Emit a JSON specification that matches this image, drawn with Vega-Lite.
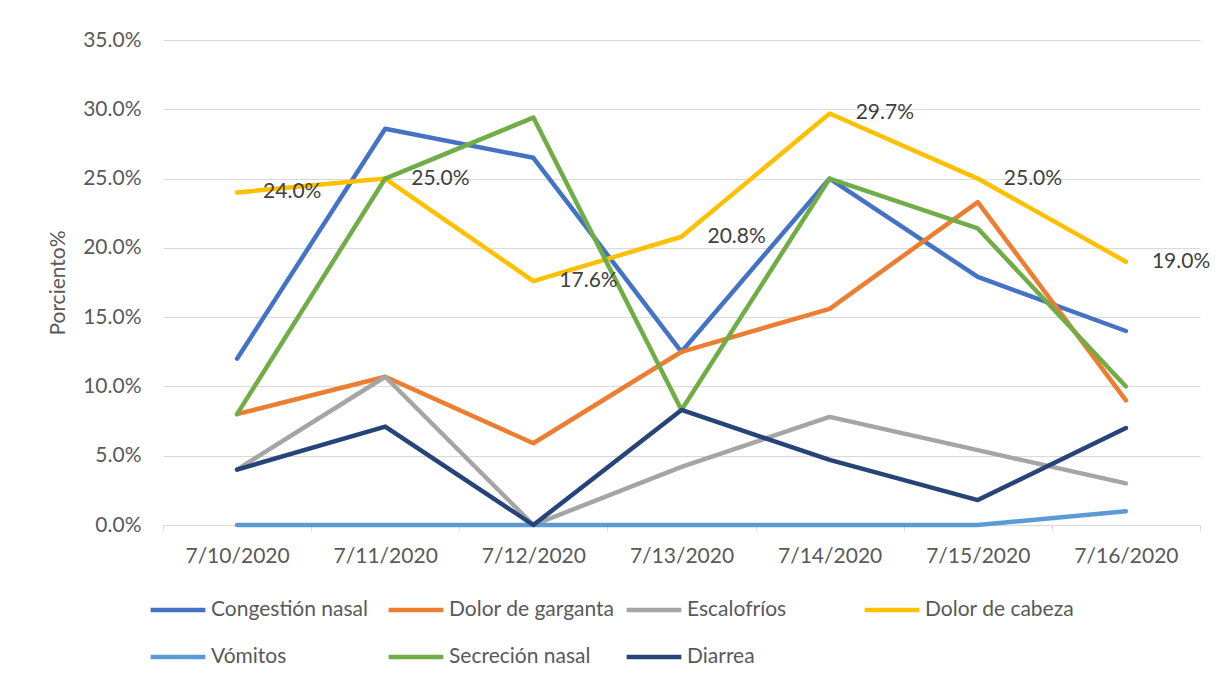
{
  "$schema": "https://vega.github.io/schema/vega-lite/v6.json",
  "width": 1037,
  "height": 485,
  "autosize": {"type": "none"},
  "padding": {"left": 163, "top": 40, "right": 31, "bottom": 156},
  "background": "white",
  "config": {
    "font": "Lato",
    "view": {"stroke": null},
    "axis": {"labelFont": "Lato", "titleFont": "Lato", "labelColor": "#595959", "titleColor": "#595959", "labelFontSize": 21, "titleFontSize": 21, "titleFontWeight": "normal"},
    "legend": {"labelFont": "Lato", "labelFontSize": 21, "labelColor": "#595959", "labelLimit": 400}
  },
  "data": {
    "values": [
      {"fecha": "7/10/2020", "sintoma": "Congestión nasal", "valor": 0.120},
      {"fecha": "7/11/2020", "sintoma": "Congestión nasal", "valor": 0.286},
      {"fecha": "7/12/2020", "sintoma": "Congestión nasal", "valor": 0.265},
      {"fecha": "7/13/2020", "sintoma": "Congestión nasal", "valor": 0.125},
      {"fecha": "7/14/2020", "sintoma": "Congestión nasal", "valor": 0.250},
      {"fecha": "7/15/2020", "sintoma": "Congestión nasal", "valor": 0.179},
      {"fecha": "7/16/2020", "sintoma": "Congestión nasal", "valor": 0.140},
      {"fecha": "7/10/2020", "sintoma": "Dolor de garganta", "valor": 0.080},
      {"fecha": "7/11/2020", "sintoma": "Dolor de garganta", "valor": 0.107},
      {"fecha": "7/12/2020", "sintoma": "Dolor de garganta", "valor": 0.059},
      {"fecha": "7/13/2020", "sintoma": "Dolor de garganta", "valor": 0.125},
      {"fecha": "7/14/2020", "sintoma": "Dolor de garganta", "valor": 0.156},
      {"fecha": "7/15/2020", "sintoma": "Dolor de garganta", "valor": 0.233},
      {"fecha": "7/16/2020", "sintoma": "Dolor de garganta", "valor": 0.090},
      {"fecha": "7/10/2020", "sintoma": "Escalofríos", "valor": 0.040},
      {"fecha": "7/11/2020", "sintoma": "Escalofríos", "valor": 0.107},
      {"fecha": "7/12/2020", "sintoma": "Escalofríos", "valor": 0.000},
      {"fecha": "7/13/2020", "sintoma": "Escalofríos", "valor": 0.042},
      {"fecha": "7/14/2020", "sintoma": "Escalofríos", "valor": 0.078},
      {"fecha": "7/15/2020", "sintoma": "Escalofríos", "valor": 0.054},
      {"fecha": "7/16/2020", "sintoma": "Escalofríos", "valor": 0.030},
      {"fecha": "7/10/2020", "sintoma": "Dolor de cabeza", "valor": 0.240},
      {"fecha": "7/11/2020", "sintoma": "Dolor de cabeza", "valor": 0.250},
      {"fecha": "7/12/2020", "sintoma": "Dolor de cabeza", "valor": 0.176},
      {"fecha": "7/13/2020", "sintoma": "Dolor de cabeza", "valor": 0.208},
      {"fecha": "7/14/2020", "sintoma": "Dolor de cabeza", "valor": 0.297},
      {"fecha": "7/15/2020", "sintoma": "Dolor de cabeza", "valor": 0.250},
      {"fecha": "7/16/2020", "sintoma": "Dolor de cabeza", "valor": 0.190},
      {"fecha": "7/10/2020", "sintoma": "Vómitos", "valor": 0.000},
      {"fecha": "7/11/2020", "sintoma": "Vómitos", "valor": 0.000},
      {"fecha": "7/12/2020", "sintoma": "Vómitos", "valor": 0.000},
      {"fecha": "7/13/2020", "sintoma": "Vómitos", "valor": 0.000},
      {"fecha": "7/14/2020", "sintoma": "Vómitos", "valor": 0.000},
      {"fecha": "7/15/2020", "sintoma": "Vómitos", "valor": 0.000},
      {"fecha": "7/16/2020", "sintoma": "Vómitos", "valor": 0.010},
      {"fecha": "7/10/2020", "sintoma": "Secreción nasal", "valor": 0.080},
      {"fecha": "7/11/2020", "sintoma": "Secreción nasal", "valor": 0.250},
      {"fecha": "7/12/2020", "sintoma": "Secreción nasal", "valor": 0.294},
      {"fecha": "7/13/2020", "sintoma": "Secreción nasal", "valor": 0.083},
      {"fecha": "7/14/2020", "sintoma": "Secreción nasal", "valor": 0.250},
      {"fecha": "7/15/2020", "sintoma": "Secreción nasal", "valor": 0.214},
      {"fecha": "7/16/2020", "sintoma": "Secreción nasal", "valor": 0.100},
      {"fecha": "7/10/2020", "sintoma": "Diarrea", "valor": 0.040},
      {"fecha": "7/11/2020", "sintoma": "Diarrea", "valor": 0.071},
      {"fecha": "7/12/2020", "sintoma": "Diarrea", "valor": 0.000},
      {"fecha": "7/13/2020", "sintoma": "Diarrea", "valor": 0.083},
      {"fecha": "7/14/2020", "sintoma": "Diarrea", "valor": 0.047},
      {"fecha": "7/15/2020", "sintoma": "Diarrea", "valor": 0.018},
      {"fecha": "7/16/2020", "sintoma": "Diarrea", "valor": 0.070}
    ]
  },
  "encoding": {
    "x": {
      "field": "fecha", "type": "nominal", "sort": null, "bandPosition": 0.5,
      "scale": {"type": "band", "paddingInner": 0, "paddingOuter": 0},
      "axis": {"title": null, "labelAngle": 0, "domainColor": "#D9D9D9", "domainWidth": 1, "tickColor": "#D9D9D9", "tickSize": 6, "tickBand": "extent", "labelPadding": 14, "labelBaseline": "top"}
    },
    "y": {
      "field": "valor", "type": "quantitative",
      "scale": {"domain": [0, 0.35], "nice": false},
      "axis": {"title": "Porciento%", "format": ".1%", "values": [0, 0.05, 0.1, 0.15, 0.2, 0.25, 0.3, 0.35], "domain": false, "ticks": false, "labelPadding": 22, "gridColor": "#D9D9D9", "gridWidth": 1, "titlePadding": 14}
    }
  },
  "layer": [
    {
      "mark": {"type": "line", "strokeWidth": 4.5, "strokeCap": "round", "strokeJoin": "round"},
      "encoding": {
        "color": {
          "field": "sintoma", "type": "nominal",
          "scale": {
            "domain": ["Congestión nasal", "Dolor de garganta", "Escalofríos", "Dolor de cabeza", "Vómitos", "Secreción nasal", "Diarrea"],
            "range": ["#4472C4", "#ED7D31", "#A5A5A5", "#FFC000", "#5B9BD5", "#70AD47", "#264478"]
          },
          "legend": {
            "title": null, "orient": "none", "legendX": -15, "legendY": 540, "direction": "horizontal",
            "columns": 4, "gridAlign": "all", "columnPadding": 2, "rowPadding": 7,
            "symbolType": "stroke", "symbolStrokeWidth": 4.5, "symbolSize": 3000, "labelOffset": 3
          }
        }
      }
    },
    {
      "transform": [{"filter": "datum.sintoma === 'Dolor de cabeza'"}],
      "mark": {"type": "text", "align": "left", "baseline": "middle", "dx": 26, "fontSize": 21, "color": "#404040", "font": "Lato"},
      "encoding": {
        "text": {"field": "valor", "type": "quantitative", "format": ".1%"}
      }
    }
  ]
}
